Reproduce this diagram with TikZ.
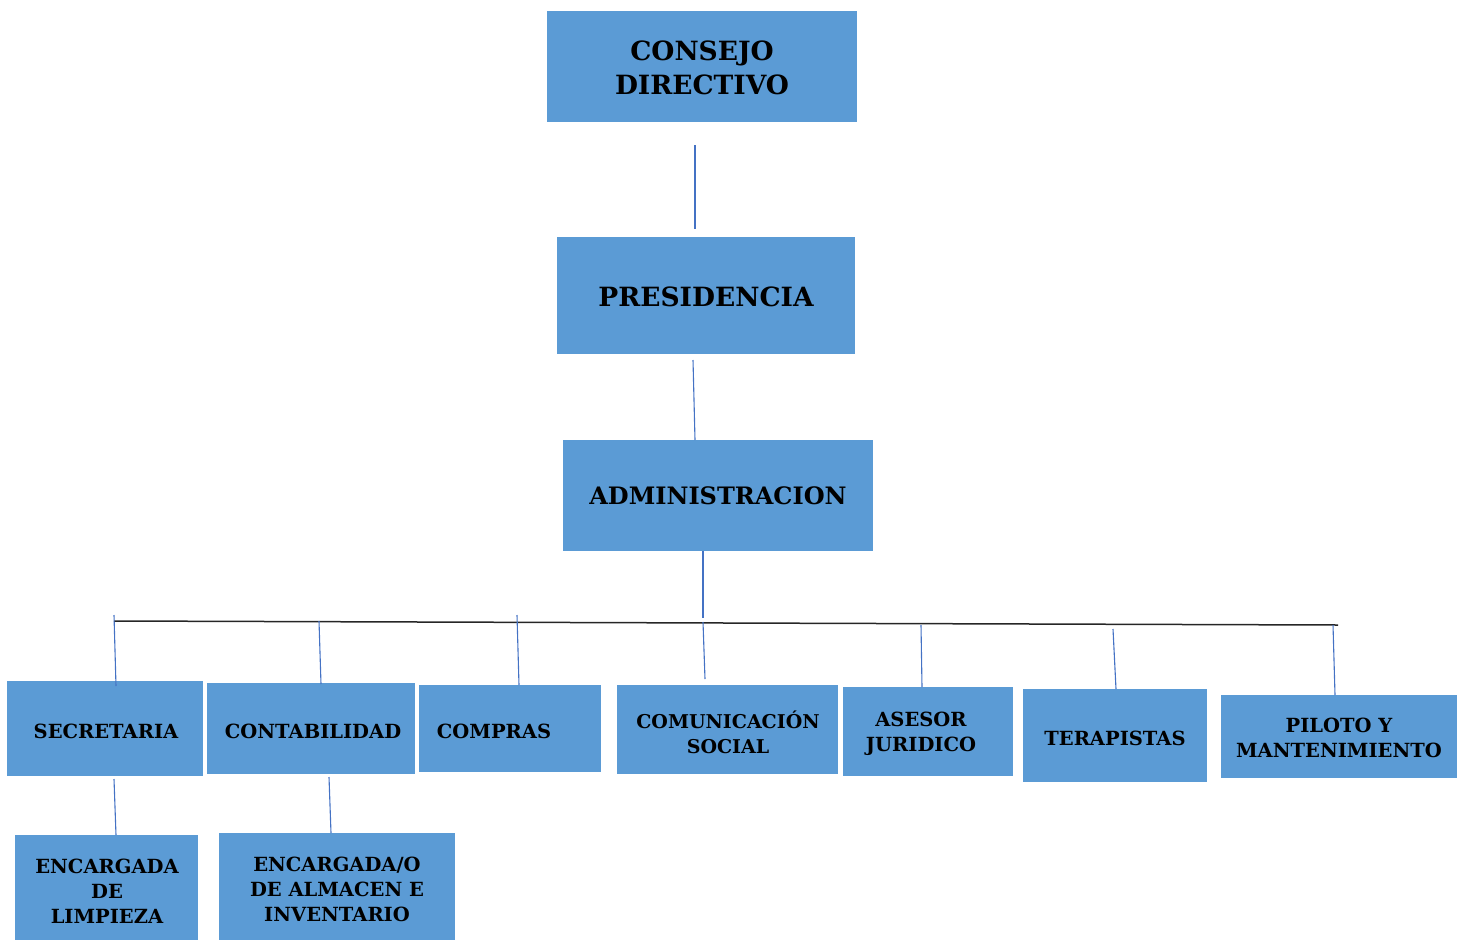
\documentclass[tikz,border=0pt]{standalone}
\usepackage{fontspec}
\setmainfont{DejaVu Serif}
\begin{document}
\begin{tikzpicture}[x=1pt,y=-1pt,
  box/.style={draw=none,fill=none,inner sep=0pt,font=\bfseries},
  big/.style={font=\fontsize{26.5}{34}\selectfont\bfseries,align=center},
  small/.style={font=\fontsize{19.5}{25}\selectfont\bfseries,align=center},
  link/.style={draw=lineblue,line width=1.1pt},
  bar/.style={draw=black!85,line width=1.5pt}]
\definecolor{boxblue}{HTML}{5B9BD5}
\definecolor{lineblue}{HTML}{4472C4}
\useasboundingbox (0,0) rectangle (1462,940);
% boxes
\path[fill=boxblue] (547,11) rectangle (857,122);
\node[box,big] (cd) at (702,68) {CONSEJO\\DIRECTIVO};
\path[fill=boxblue] (557,237) rectangle (855,354);
\node[box,big] (pr) at (706,297) {PRESIDENCIA};
\path[fill=boxblue] (563,440) rectangle (873,551);
\node[box,big,font=\fontsize{24}{30}\selectfont\bfseries] (ad) at (718,496) {ADMINISTRACION};
\path[fill=boxblue] (7,681) rectangle (203,776);
\node[box,small] (se) at (106,731) {SECRETARIA};
\path[fill=boxblue] (207,683) rectangle (415,774);
\node[box,small] (co) at (313,731) {CONTABILIDAD};
\path[fill=boxblue] (419,685) rectangle (601,772);
\node[box,small] (cm) at (494,731) {COMPRAS};
\path[fill=boxblue] (617,685) rectangle (838,774);
\node[box,small,font=\fontsize{19}{25}\selectfont\bfseries] (cs) at (728,732) {COMUNICACIÓN\\SOCIAL};
\path[fill=boxblue] (843,687) rectangle (1013,776);
\node[box,small] (as) at (921,734) {ASESOR\\JURIDICO};
\path[fill=boxblue] (1023,689) rectangle (1207,782);
\node[box,small] (te) at (1115,738) {TERAPISTAS};
\path[fill=boxblue] (1221,695) rectangle (1457,778);
\node[box,small] (pi) at (1339,738) {PILOTO Y\\MANTENIMIENTO};
\path[fill=boxblue] (15,835) rectangle (198,940);
\node[box,small] (li) at (107,891) {ENCARGADA\\DE\\LIMPIEZA};
\path[fill=boxblue] (219,833) rectangle (455,940);
\node[box,small] (al) at (337,889) {ENCARGADA/O\\DE ALMACEN E\\INVENTARIO};
% connector end points
\coordinate (c1a) at (695,145); \coordinate (c1b) at (695,229);
\coordinate (c2a) at (693,360); \coordinate (c2b) at (695,440);
\coordinate (c3a) at (703,551); \coordinate (c3b) at (703,618);
\coordinate (hl) at (114,621); \coordinate (hr) at (1338,625);
\coordinate (s1a) at (114,615); \coordinate (s1b) at (116,686);
\coordinate (s2a) at (319,621); \coordinate (s2b) at (321,684);
\coordinate (s3a) at (517,615); \coordinate (s3b) at (519,685);
\coordinate (s4a) at (703,622); \coordinate (s4b) at (705,679);
\coordinate (s5a) at (921,625); \coordinate (s5b) at (922,687);
\coordinate (s6a) at (1113,629); \coordinate (s6b) at (1116,689);
\coordinate (s7a) at (1333,625); \coordinate (s7b) at (1335,695);
\coordinate (l1a) at (114,779); \coordinate (l1b) at (116,835);
\coordinate (l2a) at (329,777); \coordinate (l2b) at (331,833);
% connectors
\draw[bar] (hl) -- (hr);
\draw[link] (c1a) -- (c1b);
\draw[link] (c2a) -- (c2b);
\draw[link] (c3a) -- (c3b);
\draw[link] (s1a) -- (s1b);
\draw[link] (s2a) -- (s2b);
\draw[link] (s3a) -- (s3b);
\draw[link] (s4a) -- (s4b);
\draw[link] (s5a) -- (s5b);
\draw[link] (s6a) -- (s6b);
\draw[link] (s7a) -- (s7b);
\draw[link] (l1a) -- (l1b);
\draw[link] (l2a) -- (l2b);
\end{tikzpicture}
\end{document}
